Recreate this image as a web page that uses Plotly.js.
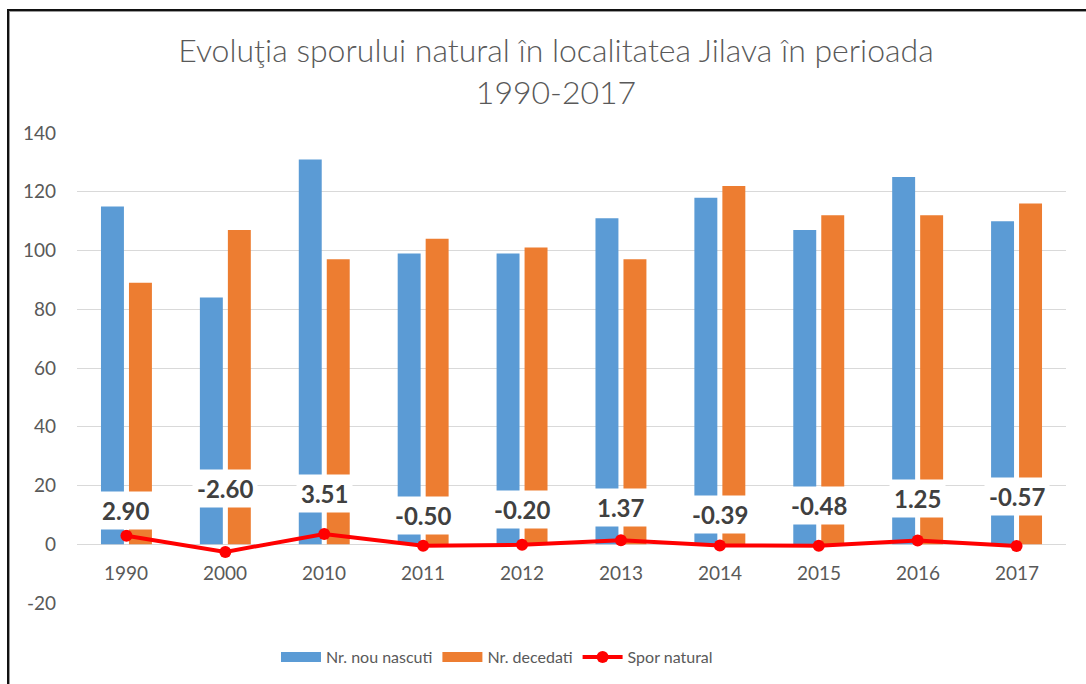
<!DOCTYPE html>
<html>
<head>
<meta charset="utf-8">
<script src="https://cdn.plot.ly/plotly-3.0.1.min.js"></script>
<style>
  html, body { margin: 0; padding: 0; background: #ffffff; }
  #wrap { position: relative; width: 1086px; height: 684px; overflow: hidden; }
  #chart { width: 1086px; height: 684px; }
  #frame { position: absolute; left: 7px; top: 9px; width: 1090px; height: 690px;
           border-left: 2px solid #111; border-top: 2px solid #111;
           box-shadow: inset 1px 1px 0 #9a9a9a; pointer-events: none; }
</style>
</head>
<body>
<div id="wrap">
  <div id="chart"></div>
  <div id="frame"></div>
</div>
<script>
// ---- data ----
const years = ['1990', '2000', '2010', '2011', '2012', '2013', '2014', '2015', '2016', '2017'];
const nouNascuti = [115, 84, 131, 99, 99, 111, 118, 107, 125, 110];
const decedati = [89, 107, 97, 104, 101, 97, 122, 112, 112, 116];
const sporNatural = [2.90, -2.60, 3.51, -0.50, -0.20, 1.37, -0.39, -0.48, 1.25, -0.57];
const yTickVals = [-20, 0, 20, 40, 60, 80, 100, 120, 140];
const seriesNames = ['Nr. nou nascuti', 'Nr. decedati', 'Spor natural'];

// label placement (pixel offsets above each point)
const labelShift = [25, 63, 40, 30, 35, 33, 31, 40, 42, 49];

const yRange = [-20, 140];
const FONT = 'Lato, "Open Sans", sans-serif';
const BLUE = '#5b9bd5', ORANGE = '#ed7d31', RED = '#ff0000';

const traces = [
  { type: 'bar', name: seriesNames[0], x: years, y: nouNascuti,
    marker: { color: BLUE }, showlegend: false, legendgroup: 'a' },
  { type: 'bar', name: seriesNames[1], x: years, y: decedati,
    marker: { color: ORANGE }, showlegend: false, legendgroup: 'b' },
  { type: 'scatter', mode: 'lines+markers', name: seriesNames[2], x: years, y: sporNatural,
    line: { color: RED, width: 4 }, marker: { color: RED, size: 12 }, showlegend: false, legendgroup: 'c' },
  // legend keys only (wide Excel-like swatches, no marks in the plot)
  { type: 'scatter', mode: 'lines', name: seriesNames[0], x: [null], y: [null],
    line: { color: BLUE, width: 13 }, legendgroup: 'a', hoverinfo: 'skip' },
  { type: 'scatter', mode: 'lines', name: seriesNames[1], x: [null], y: [null],
    line: { color: ORANGE, width: 13 }, legendgroup: 'b', hoverinfo: 'skip' },
  { type: 'scatter', mode: 'lines+markers', name: seriesNames[2], x: [null], y: [null],
    line: { color: RED, width: 4 }, marker: { color: RED, size: 12 }, legendgroup: 'c', hoverinfo: 'skip' }
];

// value labels (x given as category index)
const annotations = years.map((yr, i) => ({
  x: i, y: sporNatural[i], xref: 'x', yref: 'y',
  text: sporNatural[i].toFixed(2), showarrow: false,
  yshift: labelShift[i], bgcolor: '#ffffff', borderpad: 4,
  font: { family: FONT, size: 24, color: '#404040', weight: 'bold' }
}));
// category labels just under the value-0 line
years.forEach((yr, i) => annotations.push({
  x: i, y: 0, xref: 'x', yref: 'y', text: yr, showarrow: false,
  yanchor: 'middle', yshift: -28,
  font: { family: FONT, size: 19, color: '#595959' }
}));

const layout = {
  width: 1086, height: 684,
  margin: { l: 77, r: 20, t: 133, b: 81 },
  paper_bgcolor: '#ffffff', plot_bgcolor: '#ffffff',
  title: {
    text: 'Evoluţia sporului natural în localitatea Jilava în perioada<br>1990-2017',
    x: 556 / 1086, xanchor: 'center', xref: 'container',
    y: 1 - 62 / 684, yref: 'container', yanchor: 'middle',
    font: { family: FONT, size: 32, color: '#595959', weight: 300 }
  },
  barmode: 'group', bargap: 0.434, bargroupgap: 0.18,
  xaxis: {
    type: 'category', range: [-0.5, years.length - 0.5], autorange: false,
    showticklabels: false, showgrid: false, showline: false, zeroline: false, ticks: ''
  },
  yaxis: {
    range: yRange, autorange: false, tickvals: yTickVals, ticktext: yTickVals.map(String),
    showgrid: true, gridcolor: '#d9d9d9', gridwidth: 1,
    zeroline: true, zerolinecolor: '#d9d9d9', zerolinewidth: 1,
    showline: false, ticks: '', ticklabelstandoff: 20,
    tickfont: { family: FONT, size: 19, color: '#595959' }
  },
  legend: {
    orientation: 'h', x: 497 / 1086, xanchor: 'center', xref: 'container',
    y: 1 - 657 / 684, yref: 'container', yanchor: 'middle',
    itemwidth: 40, tracegroupgap: 0,
    font: { family: FONT, size: 16, color: '#595959' }
  },
  annotations: annotations,
  showlegend: true
};

Plotly.newPlot('chart', traces, layout, { displayModeBar: false });
</script>
</body>
</html>
